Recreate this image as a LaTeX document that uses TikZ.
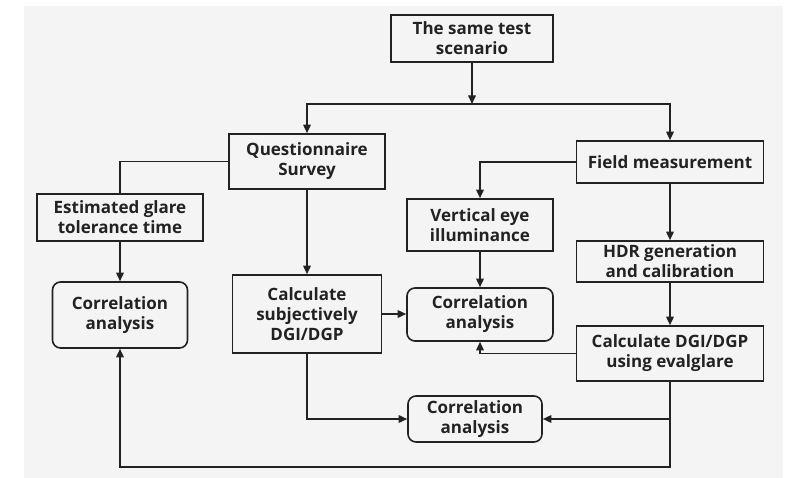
\documentclass[tikz,border=0pt]{standalone}
\usepackage{fontspec}
\setmainfont{Open Sans}
\usetikzlibrary{arrows.meta}
\definecolor{bggray}{HTML}{F4F4F4}
\definecolor{ink}{HTML}{222222}

\begin{document}
\begin{tikzpicture}[x=1pt,y=-1pt,
  font=\bfseries\fontsize{17}{20}\selectfont,
  color=ink,line width=1.6pt,
  box/.style={draw,align=center,inner sep=0pt},
  corr/.style={box,rounded corners=8pt},
  tip/.style={-{Triangle[length=8.5pt,width=7.5pt]}}]

\useasboundingbox (0,0) rectangle (785,478);
\fill[bggray] (24,6) rectangle (783,478);

\node[box,minimum width=162pt,minimum height=47pt] (scen) at (472,38.5) {The same test\\scenario};
\node[box,minimum width=156pt,minimum height=55pt] (quest) at (307,161.5) {Questionnaire\\Survey};
\node[box,minimum width=187pt,minimum height=42pt] (field) at (670,162) {Field measurement};
\node[box,minimum width=166pt,minimum height=47pt] (est) at (120,217.5) {Estimated glare\\tolerance time};
\node[box,minimum width=146pt,minimum height=52pt] (vert) at (480,225) {Vertical eye\\illuminance};
\node[box,minimum width=187pt,minimum height=41pt] (hdr) at (670,261.5) {HDR generation\\and calibration};
\node[corr,minimum width=135pt,minimum height=66pt] (corrL) at (120,315) {Correlation\\analysis};
\node[box,minimum width=149pt,minimum height=78pt] (calcS) at (307,314) {Calculate\\subjectively\\DGI/DGP};
\node[corr,minimum width=146pt,minimum height=53pt] (corrM) at (480,314.5) {Correlation\\analysis};
\node[box,minimum width=187pt,minimum height=55pt] (calcE) at (670,353.5) {Calculate DGI/DGP\\using evalglare};
\node[corr,minimum width=134pt,minimum height=46pt] (corrB) at (475,419) {Correlation\\analysis};

\coordinate (split) at (472,104);
\coordinate (joint) at (calcE.south |- corrB.east);
\coordinate (bend) at (670,467);

% top branch
\draw[tip] (scen) -- (split);
\draw[tip] (split) -| (quest);
\draw[tip] (split) -| (field);

% survey side
\draw (quest) -| (est);
\draw[tip] (est) -- (corrL);
\draw[tip] (quest) -- (calcS);
\draw[tip] (calcS.east) -- (calcS.east -| corrM.west);
\draw[tip] (calcS) |- (corrB);

% measurement side
\draw[tip] (field) -| (vert);
\draw[tip] (field) -- (hdr);
\draw[tip] (hdr) -- (calcE);
\draw[tip] (vert) -- (corrM);
\draw[tip] (calcE) -| (corrM);
\draw[tip] (joint) -- (corrB);
\draw[tip] (calcE) -- (bend) -| (corrL);

\end{tikzpicture}
\end{document}
